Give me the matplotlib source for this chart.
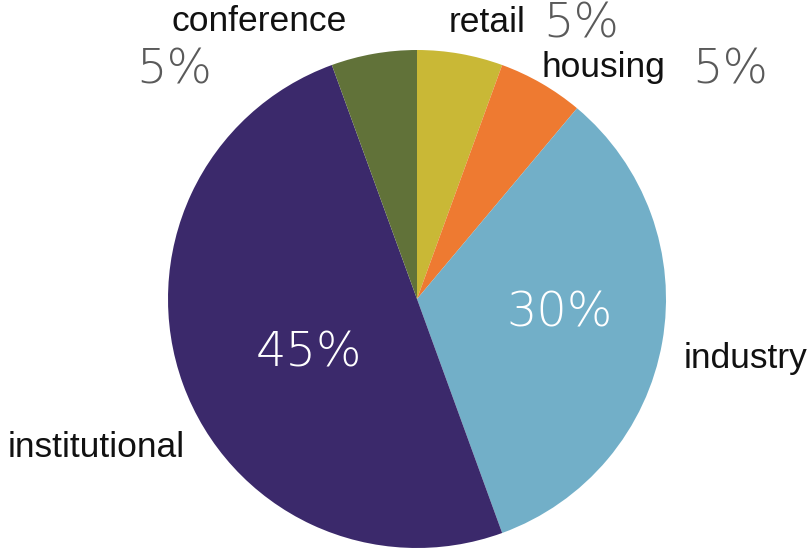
import matplotlib
matplotlib.use('Agg')
import matplotlib.pyplot as plt

# share of floor area by use
categories = ['retail', 'housing', 'industry', 'institutional', 'conference']
values = [5, 5, 30, 45, 5]
colors = ['#c9b836', '#ee7a31', '#72afc8', '#3b296b', '#617239']

# label anchors (data units of the pie axes) and colours for the percentages
name_pos = [(0.281, 1.072), (0.747, 0.892), (1.321, -0.277), (-1.289, -0.635), (-0.635, 1.076)]
pct_pos = [(0.659, 1.052), (1.257, 0.867), (0.574, -0.112), (-0.434, -0.273), (-0.976, 0.867)]
pct_colors = ['#5a5a5a', '#5a5a5a', 'white', 'white', '#5a5a5a']

W, H = 811, 555
cx, cy, r = 417, 299, 249

fig = plt.figure(figsize=(W / 100, H / 100), dpi=100)
ax = fig.add_axes([(cx - r) / W, (H - cy - r) / H, 2 * r / W, 2 * r / H])

ax.pie(values, colors=colors, startangle=90, counterclock=False,
       radius=1.0, wedgeprops=dict(linewidth=0))
ax.set_xlim(-1, 1)
ax.set_ylim(-1, 1)
ax.axis('off')

for name, (x, y) in zip(categories, name_pos):
    ax.text(x, y, name, ha='center', va='baseline', fontsize=25.5,
            family='Liberation Sans', color='#111111')

for v, (x, y), c in zip(values, pct_pos, pct_colors):
    ax.text(x, y, f'{v}%', ha='center', va='baseline', fontsize=34.5,
            family='DejaVu Sans', fontweight='light', color=c)

fig.savefig('out.png', dpi=100)
